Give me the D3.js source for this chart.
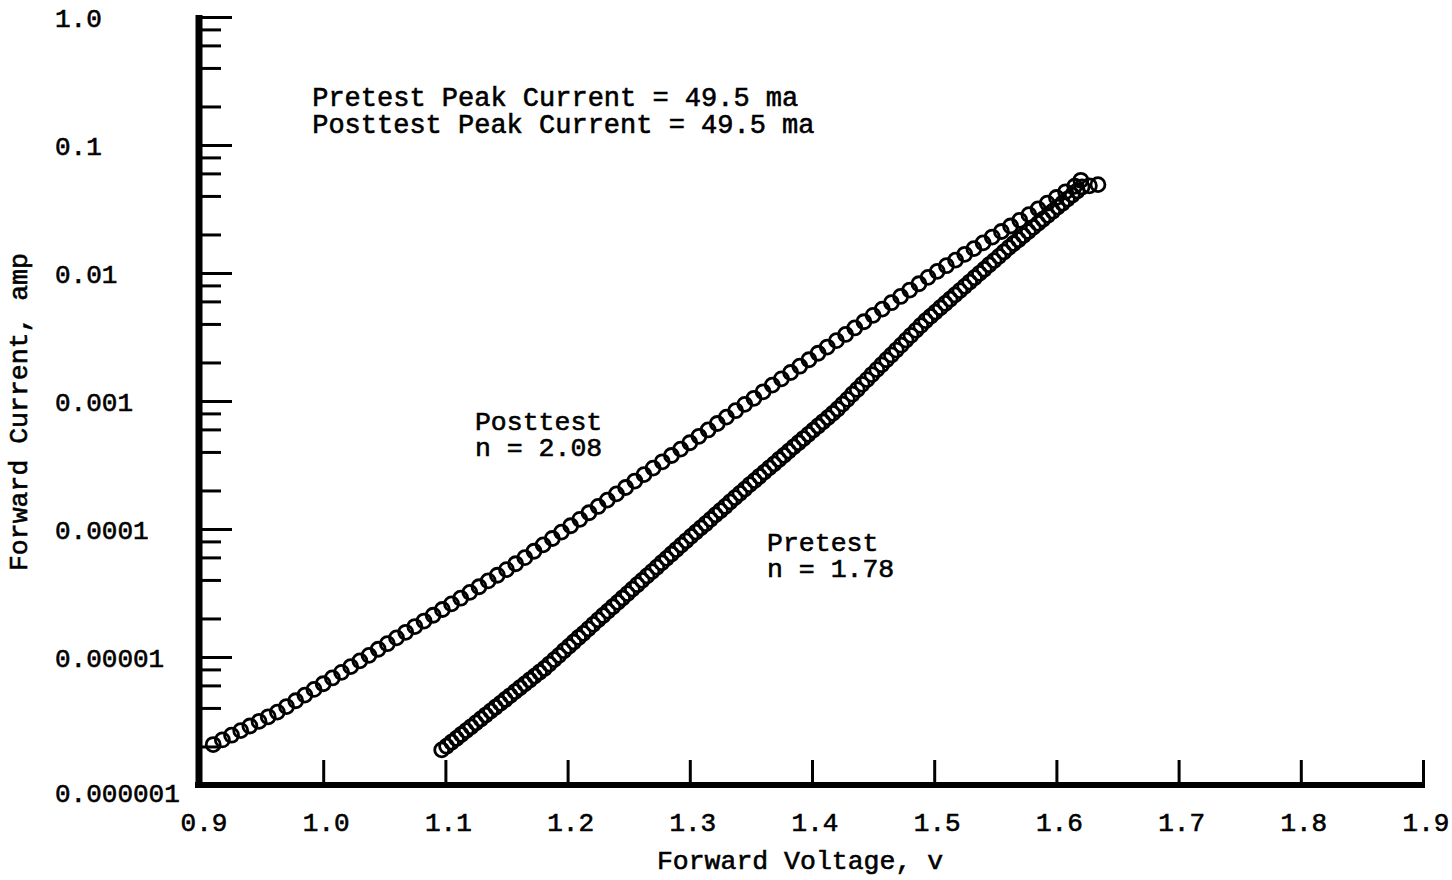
<!DOCTYPE html>
<html>
<head>
<meta charset="utf-8">
<script src="https://cdn.jsdelivr.net/npm/d3@7"></script>
<style>
  html, body { margin: 0; padding: 0; background: #fff; }
  text { font-family: "Liberation Mono", "DejaVu Sans Mono", monospace; fill: #000; stroke: #000; stroke-width: 0.6px; }
</style>
</head>
<body>
<svg class="chart"></svg>
<script>
// Posttest sweep (forward voltage in volts, forward current in amps)
const postV = [0.910, 0.9175, 0.925, 0.9325, 0.940, 0.9475, 0.955, 0.9625, 0.970, 0.9775,
  0.985, 0.9925, 1.000, 1.0075, 1.015, 1.0225, 1.030, 1.0375, 1.045, 1.0525,
  1.060, 1.0675, 1.075, 1.0825, 1.090, 1.0975, 1.105, 1.1125, 1.120, 1.1275,
  1.135, 1.1425, 1.150, 1.1575, 1.165, 1.1725, 1.180, 1.1875, 1.195, 1.2025,
  1.210, 1.2175, 1.225, 1.2325, 1.240, 1.2475, 1.255, 1.2625, 1.270, 1.2775,
  1.285, 1.2925, 1.300, 1.3075, 1.315, 1.3225, 1.330, 1.3375, 1.345, 1.3525,
  1.360, 1.3675, 1.375, 1.3825, 1.390, 1.3975, 1.405, 1.4125, 1.420, 1.4275,
  1.435, 1.4425, 1.450, 1.4575, 1.465, 1.4725, 1.480, 1.4875, 1.495, 1.5025,
  1.510, 1.5175, 1.525, 1.5325, 1.540, 1.5475, 1.555, 1.5625, 1.570, 1.5775,
  1.585, 1.5925, 1.600, 1.6075, 1.615, 1.620];
const postI = [2.07e-6, 2.25e-6, 2.45e-6, 2.66e-6, 2.89e-6, 3.14e-6, 3.41e-6, 3.71e-6, 4.10e-6, 4.55e-6,
  5.04e-6, 5.58e-6, 6.18e-6, 6.86e-6, 7.59e-6, 8.41e-6, 9.33e-6, 1.03e-5, 1.15e-5, 1.27e-5,
  1.41e-5, 1.56e-5, 1.73e-5, 1.91e-5, 2.12e-5, 2.35e-5, 2.60e-5, 2.88e-5, 3.20e-5, 3.54e-5,
  3.93e-5, 4.35e-5, 4.82e-5, 5.35e-5, 5.97e-5, 6.70e-5, 7.52e-5, 8.43e-5, 9.46e-5, 1.06e-4,
  1.19e-4, 1.34e-4, 1.50e-4, 1.68e-4, 1.88e-4, 2.11e-4, 2.37e-4, 2.66e-4, 2.99e-4, 3.35e-4,
  3.75e-4, 4.21e-4, 4.72e-4, 5.30e-4, 5.94e-4, 6.67e-4, 7.48e-4, 8.40e-4, 9.42e-4, 1.05e-3,
  1.18e-3, 1.33e-3, 1.49e-3, 1.67e-3, 1.87e-3, 2.10e-3, 2.36e-3, 2.64e-3, 2.96e-3, 3.31e-3,
  3.72e-3, 4.16e-3, 4.67e-3, 5.22e-3, 5.86e-3, 6.56e-3, 7.36e-3, 8.24e-3, 9.25e-3, 1.03e-2,
  1.14e-2, 1.26e-2, 1.40e-2, 1.55e-2, 1.72e-2, 1.91e-2, 2.11e-2, 2.33e-2, 2.58e-2, 2.86e-2,
  3.17e-2, 3.51e-2, 3.89e-2, 4.31e-2, 4.76e-2, 5.30e-2];

// Pretest sweep
const preV = [1.097, 1.101, 1.105, 1.109, 1.113, 1.117, 1.121, 1.125, 1.129, 1.133,
  1.137, 1.141, 1.145, 1.149, 1.153, 1.157, 1.161, 1.165, 1.169, 1.173,
  1.177, 1.181, 1.185, 1.189, 1.193, 1.197, 1.201, 1.205, 1.209, 1.213,
  1.217, 1.221, 1.225, 1.229, 1.233, 1.237, 1.241, 1.245, 1.249, 1.253,
  1.257, 1.261, 1.265, 1.269, 1.273, 1.277, 1.281, 1.285, 1.289, 1.293,
  1.297, 1.301, 1.305, 1.309, 1.313, 1.317, 1.321, 1.325, 1.329, 1.333,
  1.337, 1.341, 1.345, 1.349, 1.353, 1.357, 1.361, 1.365, 1.369, 1.373,
  1.377, 1.381, 1.385, 1.389, 1.393, 1.397, 1.401, 1.405, 1.409, 1.413,
  1.417, 1.421, 1.425, 1.429, 1.433, 1.437, 1.441, 1.445, 1.449, 1.453,
  1.457, 1.461, 1.465, 1.469, 1.473, 1.477, 1.481, 1.485, 1.489, 1.493,
  1.497, 1.501, 1.505, 1.509, 1.513, 1.517, 1.521, 1.525, 1.529, 1.533,
  1.537, 1.541, 1.545, 1.549, 1.553, 1.557, 1.561, 1.565, 1.569, 1.573,
  1.577, 1.581, 1.585, 1.589, 1.593, 1.597, 1.601, 1.605, 1.609, 1.613,
  1.617, 1.621, 1.627, 1.634];
const preI = [1.88e-6, 2.01e-6, 2.16e-6, 2.31e-6, 2.48e-6, 2.66e-6, 2.85e-6, 3.06e-6, 3.28e-6, 3.52e-6,
  3.78e-6, 4.05e-6, 4.34e-6, 4.66e-6, 5.00e-6, 5.36e-6, 5.75e-6, 6.16e-6, 6.61e-6, 7.09e-6,
  7.60e-6, 8.14e-6, 8.81e-6, 9.54e-6, 1.03e-5, 1.12e-5, 1.21e-5, 1.31e-5, 1.42e-5, 1.53e-5,
  1.66e-5, 1.80e-5, 1.95e-5, 2.11e-5, 2.28e-5, 2.47e-5, 2.67e-5, 2.89e-5, 3.13e-5, 3.39e-5,
  3.67e-5, 3.97e-5, 4.30e-5, 4.65e-5, 5.03e-5, 5.45e-5, 5.90e-5, 6.38e-5, 6.91e-5, 7.48e-5,
  8.09e-5, 8.76e-5, 9.46e-5, 1.02e-4, 1.10e-4, 1.19e-4, 1.29e-4, 1.39e-4, 1.50e-4, 1.63e-4,
  1.76e-4, 1.90e-4, 2.05e-4, 2.22e-4, 2.39e-4, 2.58e-4, 2.78e-4, 3.00e-4, 3.23e-4, 3.49e-4,
  3.76e-4, 4.06e-4, 4.38e-4, 4.72e-4, 5.09e-4, 5.49e-4, 5.92e-4, 6.38e-4, 6.88e-4, 7.42e-4,
  8.00e-4, 8.66e-4, 9.46e-4, 1.03e-3, 1.13e-3, 1.23e-3, 1.35e-3, 1.47e-3, 1.61e-3, 1.76e-3,
  1.92e-3, 2.10e-3, 2.29e-3, 2.50e-3, 2.73e-3, 2.99e-3, 3.26e-3, 3.56e-3, 3.89e-3, 4.24e-3,
  4.58e-3, 4.95e-3, 5.35e-3, 5.78e-3, 6.24e-3, 6.74e-3, 7.29e-3, 7.87e-3, 8.50e-3, 9.19e-3,
  9.93e-3, 1.07e-2, 1.16e-2, 1.25e-2, 1.35e-2, 1.46e-2, 1.58e-2, 1.70e-2, 1.82e-2, 1.96e-2,
  2.11e-2, 2.27e-2, 2.44e-2, 2.63e-2, 2.82e-2, 3.04e-2, 3.27e-2, 3.51e-2, 3.78e-2, 4.06e-2,
  4.37e-2, 4.70e-2, 4.80e-2, 4.90e-2];

// Axis ticks and labels
const xTicks = [1.0, 1.1, 1.2, 1.3, 1.4, 1.5, 1.6, 1.7, 1.8, 1.9];
const xTickLabels = ['0.9', '1.0', '1.1', '1.2', '1.3', '1.4', '1.5', '1.6', '1.7', '1.8', '1.9'];
const yDecades = [1e-6, 1e-5, 1e-4, 1e-3, 1e-2, 1e-1, 1];
const yTickLabels = ['0.000001', '0.00001', '0.0001', '0.001', '0.01', '0.1', '1.0'];
const minorSteps = [2, 4, 6, 8];

// Text placed in data units (left edge voltage, baseline current)
const notes = [
  { x: 0.991, y: 0.2017, size: 27, text: 'Pretest Peak Current = 49.5 ma' },
  { x: 0.991, y: 0.124, size: 27, text: 'Posttest Peak Current = 49.5 ma' },
  { x: 1.1242, y: 0.000593, size: 26.5, text: 'Posttest' },
  { x: 1.1242, y: 0.000372, size: 26.5, text: 'n = 2.08' },
  { x: 1.3632, y: 0.0000673, size: 26.5, text: 'Pretest' },
  { x: 1.3632, y: 0.0000422, size: 26.5, text: 'n = 1.78' }
];

const svgWidth = 1452;
const svgHeight = 880;

const svg = d3.select('.chart')
  .attr('width', svgWidth)
  .attr('height', svgHeight);

// Scales
const xScale = d3.scaleLinear().domain([0.9, 1.9]).range([201, 1423]);
const yScale = d3.scaleLog().domain([1e-6, 1]).range([785, 17]);
const axisX0 = 199;

// Y axis: major decade ticks and minor 2/4/6/8 ticks, pointing into the plot
const minorVals = [];
yDecades.slice(0, -1).forEach(d => minorSteps.forEach(m => minorVals.push(d * m)));

const yMajor = svg.append('g')
  .attr('transform', 'translate(' + axisX0 + ',0)')
  .call(d3.axisLeft(yScale).tickValues(yDecades).tickSize(-33).tickSizeOuter(0).tickFormat(''));
yMajor.select('.domain').remove();
yMajor.selectAll('line').attr('stroke', '#000').attr('stroke-width', 3);

const yMinor = svg.append('g')
  .attr('transform', 'translate(' + axisX0 + ',0)')
  .call(d3.axisLeft(yScale).tickValues(minorVals).tickSize(-22).tickSizeOuter(0).tickFormat(''));
yMinor.select('.domain').remove();
yMinor.selectAll('line').attr('stroke', '#000').attr('stroke-width', 3);

// X axis ticks, pointing up
const xAxisGroup = svg.append('g')
  .attr('transform', 'translate(0,782)')
  .call(d3.axisBottom(xScale).tickValues(xTicks).tickSize(-22).tickSizeOuter(0).tickFormat(''));
xAxisGroup.select('.domain').remove();
xAxisGroup.selectAll('line').attr('stroke', '#000').attr('stroke-width', 3);

// Thick axis lines
svg.append('line')
  .attr('x1', axisX0).attr('x2', axisX0)
  .attr('y1', yScale(1) - 2).attr('y2', yScale(1e-6) + 3)
  .attr('stroke', '#000').attr('stroke-width', 7);

svg.append('line')
  .attr('x1', axisX0 - 4).attr('x2', xScale(1.9) + 2)
  .attr('y1', yScale(1e-6)).attr('y2', yScale(1e-6))
  .attr('stroke', '#000').attr('stroke-width', 6);

// Tick labels
svg.selectAll('text.ylab')
  .data(yDecades)
  .enter()
  .append('text')
  .attr('class', 'ylab')
  .attr('x', 55)
  .attr('y', d => yScale(d) + (d === 1e-6 ? 17 : 10))
  .attr('font-size', '26px')
  .text((d, i) => yTickLabels[i]);

svg.selectAll('text.xlab')
  .data([0.9].concat(xTicks))
  .enter()
  .append('text')
  .attr('class', 'xlab')
  .attr('x', d => xScale(d) + 3)
  .attr('y', 831)
  .attr('text-anchor', 'middle')
  .attr('font-size', '26px')
  .text((d, i) => xTickLabels[i]);

// Axis titles
svg.append('text')
  .attr('x', 800)
  .attr('y', 869)
  .attr('text-anchor', 'middle')
  .attr('font-size', '26.5px')
  .text('Forward Voltage, v');

svg.append('text')
  .attr('transform', 'translate(27,412) rotate(-90)')
  .attr('text-anchor', 'middle')
  .attr('font-size', '26.5px')
  .text('Forward Current, amp');

// Annotations
svg.selectAll('text.note')
  .data(notes)
  .enter()
  .append('text')
  .attr('class', 'note')
  .attr('x', d => xScale(d.x))
  .attr('y', d => yScale(d.y))
  .attr('font-size', d => d.size + 'px')
  .attr('xml:space', 'preserve')
  .text(d => d.text);

// Data points: open circles
const postData = d3.zip(postV, postI);
const preData = d3.zip(preV, preI);

svg.selectAll('circle.post')
  .data(postData)
  .enter()
  .append('circle')
  .attr('class', 'post')
  .attr('cx', d => xScale(d[0]))
  .attr('cy', d => yScale(d[1]))
  .attr('r', 7)
  .attr('fill', 'none')
  .attr('stroke', '#000')
  .attr('stroke-width', 2.8);

svg.selectAll('circle.pre')
  .data(preData)
  .enter()
  .append('circle')
  .attr('class', 'pre')
  .attr('cx', d => xScale(d[0]))
  .attr('cy', d => yScale(d[1]))
  .attr('r', 7)
  .attr('fill', 'none')
  .attr('stroke', '#000')
  .attr('stroke-width', 2.8);
</script>
</body>
</html>
